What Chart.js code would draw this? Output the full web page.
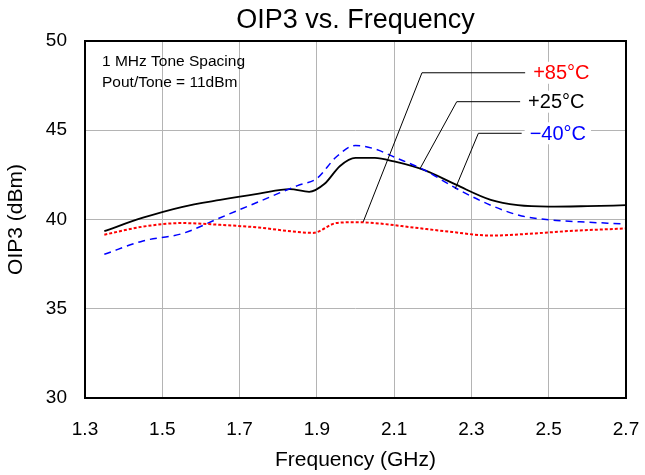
<!DOCTYPE html>
<html>
<head>
<meta charset="utf-8">
<script src="https://cdn.jsdelivr.net/npm/chart.js@4.4.1/dist/chart.umd.min.js"></script>
<style>
  html, body { margin: 0; padding: 0; background: #fff; }
  #wrap { width: 645px; height: 475px; }
</style>
</head>
<body>
<div id="wrap"><canvas id="chart"></canvas></div>
<script>
// Frequency (GHz) sample points and OIP3 (dBm) for each temperature
const freq25 = [1.35, 1.45, 1.55, 1.65, 1.75, 1.83, 1.88, 1.92, 1.96, 2.0, 2.05, 2.1, 2.18, 2.26, 2.35, 2.42, 2.5, 2.6, 2.7];
const oip25  = [39.35, 40.1, 40.7, 41.1, 41.45, 41.7, 41.55, 42.0, 43.0, 43.45, 43.45, 43.25, 42.75, 41.95, 41.1, 40.8, 40.72, 40.75, 40.8];

const freqM40 = [1.35, 1.45, 1.55, 1.65, 1.75, 1.85, 1.9, 1.95, 2.0, 2.05, 2.1, 2.18, 2.26, 2.35, 2.43, 2.52, 2.6, 2.7];
const oipM40  = [38.05, 38.8, 39.2, 40.1, 41.0, 41.9, 42.3, 43.5, 44.15, 43.95, 43.5, 42.75, 41.75, 40.8, 40.2, 39.95, 39.85, 39.75];

const freq85 = [1.35, 1.45, 1.55, 1.65, 1.75, 1.85, 1.89, 1.95, 2.0, 2.05, 2.15, 2.25, 2.35, 2.45, 2.55, 2.7];
const oip85  = [39.15, 39.6, 39.8, 39.7, 39.55, 39.3, 39.25, 39.8, 39.85, 39.8, 39.55, 39.3, 39.1, 39.2, 39.35, 39.5];

const xTicks = [1.3, 1.5, 1.7, 1.9, 2.1, 2.3, 2.5, 2.7];
const yTicks = [30, 35, 40, 45, 50];

// leader lines: [anchor on curve, elbow, end of horizontal], in data units
const labelNames = ['+85°C', '+25°C', '\u221240°C'];
const labelColors = ['#ff0000', '#000000', '#0000ff'];
const leaderAnchor = [[2.02, 39.87], [2.167, 42.85], [2.258, 41.72]];
const leaderElbow  = [[2.172, 48.22], [2.262, 46.6], [2.318, 44.83]];
const leaderEndX   = [2.439, 2.426, 2.43];

const noteLines = ['1 MHz Tone Spacing', 'Pout/Tone = 11dBm'];

const FONT = 'Liberation Sans, Arial, sans-serif';

const toPoints = (xs, ys) => xs.map((x, i) => ({ x: x, y: ys[i] }));

const overlay = {
  id: 'overlay',
  afterDatasetsDraw(chart) {
    const ctx = chart.ctx;
    const xs = chart.scales.x, ys = chart.scales.y;
    const a = chart.chartArea;
    ctx.save();

    // note in the top-left corner
    ctx.fillStyle = '#000';
    ctx.font = '15.5px ' + FONT;
    ctx.textAlign = 'left';
    ctx.textBaseline = 'middle';
    noteLines.forEach((t, i) => ctx.fillText(t, a.left + 17, a.top + 21 + i * 21));

    // leader lines and temperature labels
    ctx.font = '20px ' + FONT;
    labelNames.forEach((name, i) => {
      const p0x = xs.getPixelForValue(leaderAnchor[i][0]), p0y = ys.getPixelForValue(leaderAnchor[i][1]);
      const p1x = xs.getPixelForValue(leaderElbow[i][0]), p1y = ys.getPixelForValue(leaderElbow[i][1]);
      const p2x = xs.getPixelForValue(leaderEndX[i]);
      const w = ctx.measureText(name).width;
      ctx.fillStyle = '#fff';
      ctx.fillRect(p2x + 3, p1y - 11, w + 10, 22);
      ctx.strokeStyle = '#000';
      ctx.lineWidth = 1;
      ctx.beginPath();
      ctx.moveTo(p0x, p0y);
      ctx.lineTo(p1x, p1y);
      ctx.lineTo(p2x, p1y);
      ctx.stroke();
      ctx.fillStyle = labelColors[i];
      ctx.fillText(name, p2x + 8, p1y + 1);
    });

    // plot frame
    ctx.strokeStyle = '#000';
    ctx.lineWidth = 2;
    ctx.strokeRect(a.left, a.top, a.right - a.left, a.bottom - a.top);
    ctx.restore();
  }
};

new Chart(document.getElementById('chart'), {
  type: 'line',
  data: {
    datasets: [
      {
        label: '+85°C',
        data: toPoints(freq85, oip85),
        borderColor: '#ff0000',
        borderWidth: 2,
        borderDash: [3, 2],
        cubicInterpolationMode: 'monotone',
        pointRadius: 0,
        fill: false,
      },
      {
        label: '-40°C',
        data: toPoints(freqM40, oipM40),
        borderColor: '#0000ff',
        borderWidth: 1.5,
        borderDash: [7, 5],
        cubicInterpolationMode: 'monotone',
        pointRadius: 0,
        fill: false,
      },
      {
        label: '+25°C',
        data: toPoints(freq25, oip25),
        borderColor: '#000000',
        borderWidth: 1.8,
        cubicInterpolationMode: 'monotone',
        pointRadius: 0,
        fill: false,
      },
    ],
  },
  options: {
    responsive: true,
    maintainAspectRatio: false,
    animation: false,
    layout: { padding: { top: 0, right: 19, bottom: 0, left: 0 } },
    plugins: {
      legend: { display: false },
      tooltip: { enabled: false },
      title: {
        display: true,
        text: 'OIP3 vs. Frequency',
        color: '#000',
        fullSize: false,
        font: { family: FONT, size: 27, weight: 'normal', lineHeight: 1.2 },
        padding: { top: 4, bottom: 4.6 },
      },
    },
    scales: {
      x: {
        type: 'linear',
        min: 1.3,
        max: 2.7,
        afterBuildTicks: scale => { scale.ticks = xTicks.map(v => ({ value: v })); },
        afterFit: scale => {
          scale.height = 77;
          // the last tick label may overhang the frame, as in the original
          scale.paddingLeft = 0;
          scale.paddingRight = 0;
        },
        ticks: {
          color: '#000',
          padding: 20,
          font: { family: FONT, size: 19 },
          callback: v => v.toFixed(1),
        },
        grid: { color: '#b4b4b4', lineWidth: 1, drawTicks: false },
        border: { display: false },
        title: {
          display: true,
          text: 'Frequency (GHz)',
          color: '#000',
          font: { family: FONT, size: 21 },
          padding: { top: 0, bottom: 2 },
        },
      },
      y: {
        min: 30,
        max: 50,
        afterBuildTicks: scale => { scale.ticks = yTicks.map(v => ({ value: v })); },
        afterFit: scale => { scale.width = 85; },
        ticks: {
          color: '#000',
          padding: 18,
          font: { family: FONT, size: 19 },
        },
        grid: { color: '#b4b4b4', lineWidth: 1, drawTicks: false },
        border: { display: false },
        title: {
          display: true,
          text: 'OIP3 (dBm)',
          color: '#000',
          font: { family: FONT, size: 21 },
          padding: { top: 4, bottom: 0 },
        },
      },
    },
  },
  plugins: [overlay],
});
</script>
</body>
</html>
